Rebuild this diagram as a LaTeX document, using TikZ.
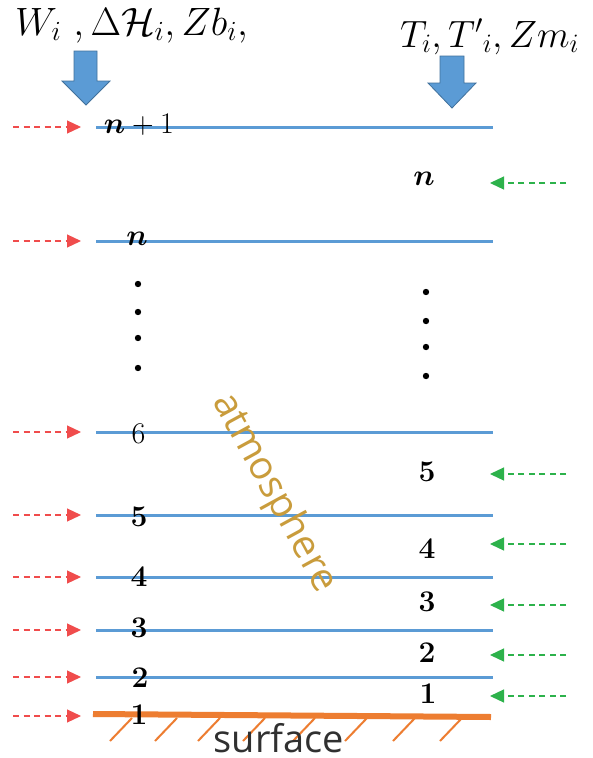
\RequirePackage{fix-cm}
\documentclass[tikz,border=0pt]{standalone}
\usepackage{amsmath}
\usepackage{bm}
\usepackage{fontspec}
\newfontfamily\osans{Open Sans}
\usetikzlibrary{arrows.meta}
\definecolor{lineblue}{HTML}{5B9BD5}
\definecolor{edgeblue}{HTML}{41719C}
\definecolor{surforange}{HTML}{ED7D31}
\definecolor{inred}{HTML}{F04C4C}
\definecolor{ingreen}{HTML}{2DB24B}
\definecolor{atmgold}{HTML}{C99C3C}
\definecolor{surfgray}{HTML}{303030}
\begin{document}
\begin{tikzpicture}[x=1pt,y=-1pt,
  level/.style={draw=lineblue,line width=3pt},
  inarrow/.style={draw=inred,line width=1.2pt,dash pattern=on 6pt off 4.5pt,
     -{Triangle[length=14pt,width=13pt,fill=inred,sep=0pt]}},
  outarrow/.style={draw=ingreen,line width=1.2pt,dash pattern=on 6pt off 4.5pt,
     -{Triangle[length=14pt,width=13pt,fill=ingreen,sep=0pt]}},
  blockarrow/.style={fill=lineblue,draw=edgeblue,line width=0.8pt,line join=miter},
  numlab/.style={anchor=base,inner sep=0pt,font=\fontsize{30}{31}\selectfont},
  toplab/.style={anchor=base west,inner sep=0pt,text height=26pt,text depth=8pt},
  dotmark/.style={fill=black},
  hatch/.style={draw=surforange,line width=2pt}
]
\fill[white] (0,0) rectangle (593,758);
\useasboundingbox (0,0) rectangle (593,758);

% top labels
\node[toplab,font=\fontsize{39.5}{41}\selectfont] (qleft) at (15,35) {$W_i\ ,\Delta\mathcal{H}_i,Zb_i,$};
\node[toplab,font=\fontsize{38}{40}\selectfont] (qright) at (400,47) {$T_i,T{'}_i,Zm_i$};

% block arrows
\path[blockarrow] (74,51) -- (97,51) -- (97,81) -- (110,81) -- (86,105) -- (62,81) -- (74,81) -- cycle;
\path[blockarrow] (440,56) -- (464,56) -- (464,83) -- (476,83) -- (452,108) -- (428,83) -- (440,83) -- cycle;

% levels with incoming red arrows
\foreach \yy/\nm in {127/a,241/b,432/c,515/d,577/e,630/f,677/g}{
  \coordinate (L\nm) at (96,\yy);
  \coordinate (R\nm) at (493,\yy);
  \draw[level] (L\nm) -- (R\nm);
  \coordinate (S\nm) at (13,\yy);
  \coordinate (T\nm) at (81,\yy);
  \draw[inarrow] (S\nm) -- (T\nm);
}
% surface level
\coordinate (Lh) at (93,714);
\coordinate (Rh) at (491,717);
\coordinate (Sh) at (13,716);
\coordinate (Th) at (81,716);
\draw[inarrow] (Sh) -- (Th);
\draw[draw=surforange,line width=6pt] (Lh) -- (Rh);
\foreach \xx [count=\k] in {132,177,220,265,315,367,415,462}{
  \coordinate (ht\k) at (\xx,718);
  \coordinate (hb\k) at (\xx-22,741);
  \draw[hatch] (ht\k) -- (hb\k);
}

% outgoing green arrows on the right
\foreach \yy/\nm in {183/a,474/b,544/c,605/d,655/e,696/f}{
  \coordinate (GS\nm) at (566,\yy);
  \coordinate (GT\nm) at (490,\yy);
  \draw[outarrow] (GS\nm) -- (GT\nm);
}

% left labels
\node[numlab] (ln1) at (139,133) {$\bm{n}+1$};
\node[numlab] (ln) at (137,245) {$\bm{n}$};
\node[numlab] (l6) at (138.5,443) {6};
\node[numlab] (l5) at (139,526) {\bfseries 5};
\node[numlab] (l4) at (139,586) {\bfseries 4};
\node[numlab] (l3) at (139,637) {\bfseries 3};
\node[numlab] (l2) at (140,687) {\bfseries 2};
\node[numlab] (l1) at (139,724) {\bfseries 1};
\foreach \yy [count=\k] in {284,312,338,368}{
  \fill[dotmark] (138,\yy) circle (3.2pt);
}

% right labels
\node[numlab] (rn) at (424,185) {$\bm{n}$};
\node[numlab] (r5) at (427,481) {\bfseries 5};
\node[numlab] (r4) at (427,558) {\bfseries 4};
\node[numlab] (r3) at (427,611) {\bfseries 3};
\node[numlab] (r2) at (427,662) {\bfseries 2};
\node[numlab] (r1) at (428,703) {\bfseries 1};
\foreach \yy [count=\k] in {292,321,347,376}{
  \fill[dotmark] (426,\yy) circle (3.2pt);
}

% region texts
\node[text=atmgold,font=\osans\fontsize{39}{40}\selectfont,rotate=-61.4,inner sep=0pt] (atm) at (274,493) {atmosphere};
\node[text=surfgray,font=\osans\fontsize{38}{40}\selectfont,anchor=base,inner sep=0pt,text depth=0pt] (surf) at (279,752) {surface};
\end{tikzpicture}
\end{document}
